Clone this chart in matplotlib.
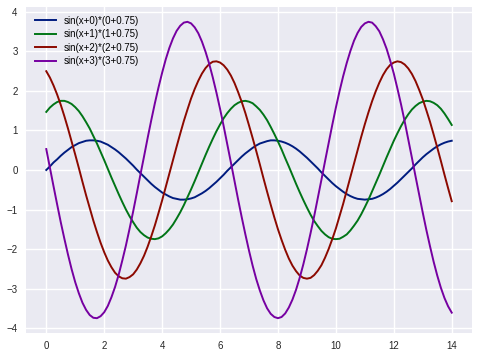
import numpy as np
from matplotlib import pyplot as plt

# values at x = 0, 0.25, ..., 14 (on the grid)
# and at x = 0.125, 0.375, ..., 13.875 (in between)
y0_on = [0.00, 0.19, 0.36, 0.51, 0.63, 0.71, 0.75, 0.74, 0.68, 0.58, 0.45, 0.29, 0.11, -0.08,
         -0.26, -0.43, -0.57, -0.67, -0.73, -0.75, -0.72, -0.64, -0.53, -0.38, -0.21, -0.02,
         0.16, 0.34, 0.49, 0.62, 0.70, 0.75, 0.74, 0.69, 0.60, 0.47, 0.31, 0.13, -0.06, -0.24,
         -0.41, -0.55, -0.66, -0.73, -0.75, -0.73, -0.66, -0.55, -0.40, -0.23, -0.05, 0.14,
         0.32, 0.47, 0.60, 0.69, 0.74]
y0_mid = [0.09, 0.27, 0.44, 0.58, 0.68, 0.74, 0.75, 0.72, 0.64, 0.52, 0.37, 0.20, 0.01, -0.17,
          -0.35, -0.50, -0.62, -0.71, -0.75, -0.74, -0.69, -0.59, -0.46, -0.30, -0.12, 0.07,
          0.25, 0.42, 0.56, 0.67, 0.73, 0.75, 0.72, 0.65, 0.54, 0.39, 0.22, 0.04, -0.15, -0.33,
          -0.48, -0.61, -0.70, -0.74, -0.74, -0.70, -0.61, -0.48, -0.32, -0.14, 0.04, 0.23,
          0.40, 0.54, 0.65, 0.72]

y1_on = [1.47, 1.66, 1.75, 1.72, 1.59, 1.36, 1.05, 0.67, 0.25, -0.19, -0.61, -1.00, -1.32,
         -1.57, -1.71, -1.75, -1.68, -1.50, -1.23, -0.89, -0.49, -0.06, 0.38, 0.79, 1.15, 1.44,
         1.64, 1.74, 1.73, 1.61, 1.40, 1.09, 0.72, 0.30, -0.13, -0.56, -0.95, -1.29, -1.54,
         -1.70, -1.75, -1.69, -1.53, -1.28, -0.94, -0.54, -0.12, 0.32, 0.74, 1.11, 1.41, 1.62,
         1.73, 1.74, 1.64, 1.43, 1.14]
y1_mid = [1.58, 1.72, 1.75, 1.67, 1.49, 1.21, 0.86, 0.46, 0.03, -0.40, -0.81, -1.17, -1.46,
          -1.65, -1.74, -1.73, -1.60, -1.38, -1.07, -0.69, -0.28, 0.16, 0.59, 0.98, 1.31, 1.55,
          1.70, 1.75, 1.69, 1.52, 1.26, 0.91, 0.52, 0.09, -0.35, -0.76, -1.13, -1.42, -1.63,
          -1.74, -1.74, -1.63, -1.41, -1.12, -0.75, -0.33, 0.10, 0.53, 0.93, 1.27, 1.53, 1.69,
          1.75, 1.70, 1.55, 1.29]

y2_on = [2.50, 2.14, 1.65, 1.05, 0.39, -0.30, -0.96, -1.57, -2.08, -2.46, -2.69, -2.75, -2.64,
         -2.36, -1.94, -1.40, -0.77, -0.09, 0.59, 1.24, 1.81, 2.26, 2.58, 2.74, 2.72, 2.54, 2.20,
         1.72, 1.13, 0.48, -0.21, -0.88, -1.50, -2.02, -2.42, -2.67, -2.75, -2.66, -2.41, -2.00,
         -1.48, -0.86, -0.18, 0.50, 1.16, 1.74, 2.21, 2.55, 2.72, 2.73, 2.57, 2.25, 1.79, 1.22,
         0.57, -0.12, -0.79]
y2_mid = [2.34, 1.91, 1.36, 0.72, 0.05, -0.64, -1.28, -1.84, -2.29, -2.60, -2.74, -2.71, -2.52,
          -2.17, -1.68, -1.09, -0.43, 0.25, 0.92, 1.53, 2.05, 2.44, 2.68, 2.75, 2.65, 2.39, 1.97,
          1.44, 0.81, 0.14, -0.55, -1.20, -1.77, -2.24, -2.56, -2.73, -2.73, -2.55, -2.22,
          -1.75, -1.17, -0.52, 0.16, 0.84, 1.46, 1.99, 2.40, 2.66, 2.75, 2.67, 2.43, 2.03, 1.51,
          0.90, 0.23, -0.46]

y3_on = [0.53, -0.41, -1.32, -2.14, -2.84, -3.36, -3.67, -3.75, -3.60, -3.22, -2.65, -1.91,
         -1.05, -0.12, 0.81, 1.69, 2.46, 3.09, 3.52, 3.73, 3.71, 3.46, 2.99, 2.34, 1.55, 0.65,
         -0.28, -1.20, -2.04, -2.76, -3.30, -3.64, -3.75, -3.63, -3.28, -2.73, -2.01, -1.17,
         -0.25, 0.68, 1.58, 2.37, 3.01, 3.47, 3.71, 3.73, 3.51, 3.07, 2.44, 1.66, 0.77, -0.16,
         -1.08, -1.93, -2.67, -3.24, -3.61]
y3_mid = [0.06, -0.87, -1.74, -2.51, -3.12, -3.54, -3.74, -3.70, -3.44, -2.96, -2.29, -1.49,
          -0.59, 0.34, 1.26, 2.09, 2.80, 3.33, 3.65, 3.75, 3.61, 3.25, 2.69, 1.96, 1.11, 0.19,
          -0.75, -1.63, -2.42, -3.05, -3.50, -3.72, -3.72, -3.48, -3.03, -2.39, -1.60, -0.71,
          0.22, 1.14, 1.99, 2.71, 3.27, 3.62, 3.75, 3.64, 3.31, 2.77, 2.06, 1.23, 0.31, -0.62,
          -1.52, -2.32, -2.98, -3.45]

labels = ["sin(x+0)*(0+0.75)", "sin(x+1)*(1+0.75)", "sin(x+2)*(2+0.75)", "sin(x+3)*(3+0.75)"]
colors = ["#001C7F", "#017517", "#8C0900", "#7600A1"]


def merge(on, mid):
    # put the in-between readings between the grid readings
    y = np.empty(len(on) + len(mid))
    y[0::2] = on
    y[1::2] = mid
    return y


x = np.arange(113) * 0.125
series = [merge(y0_on, y0_mid), merge(y1_on, y1_mid),
          merge(y2_on, y2_mid), merge(y3_on, y3_mid)]

plt.rcParams['font.family'] = ['Liberation Sans', 'DejaVu Sans']

fig = plt.figure(figsize=(4.79, 3.56), dpi=100)
ax = fig.add_axes([26 / 479, 23 / 356, 446 / 479, 326 / 356])
ax.set_facecolor("#EAEAF2")
for s in ax.spines.values():
    s.set_visible(False)
ax.grid(True, color="white", linewidth=1.0)
ax.set_axisbelow(True)

for y, lab, c in zip(series, labels, colors):
    ax.plot(x, y, color=c, linewidth=1.4, label=lab)

ax.set_xticks(np.arange(0, 15, 2))
ax.set_yticks(np.arange(-4, 5, 1))
ax.tick_params(length=0, labelsize=7, labelcolor="#262626", pad=6)
ax.legend(loc="upper left", frameon=False, fontsize=7, handlelength=2.2,
          handletextpad=0.8, labelspacing=0.35)

fig.savefig("out.png", dpi=100)
